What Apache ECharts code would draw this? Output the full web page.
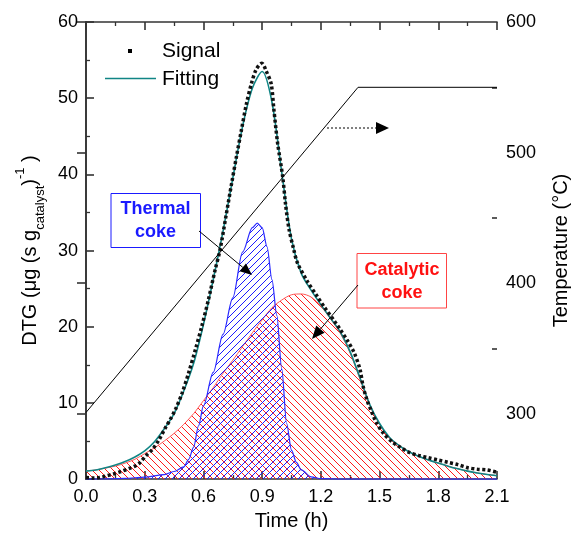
<!DOCTYPE html>
<html><head><meta charset="utf-8">
<script src="https://cdn.jsdelivr.net/npm/echarts@6/dist/echarts.min.js"></script>
<style>html,body{margin:0;padding:0;background:#fff}#c{width:579px;height:536px}</style>
</head><body><div id="c"></div>
<script>
// ---- data ----
const timeGrid = [0,0.05,0.1,0.15,0.2,0.25,0.3,0.35,0.4,0.45,0.5,0.55,0.6,0.65,0.7,0.75,0.8,0.85,0.9,0.95,1.0,1.05,1.1,1.15,1.2,1.25,1.3,1.35,1.4,1.45,1.5,1.55,1.6,1.65,1.7,1.75,1.8,1.85,1.9,1.95,2.0,2.05,2.1];
const catalyticValue = [1.05,1.2,1.45,1.7,2.1,2.6,3.35,4.1,5.0,6.0,7.2,8.6,10.3,12.0,13.9,15.6,17.4,19.2,20.9,22.5,23.5,24.2,24.3,23.9,22.7,21.0,19.1,16.5,13.1,9.6,7.2,5.4,4.4,3.6,3.0,2.5,2.1,1.7,1.35,1.05,0.8,0.6,0.45];
const fittingValue = [1.05,1.2,1.5,1.85,2.3,2.9,3.7,4.9,6.6,8.6,11.6,15.2,20.3,26.2,32.5,39.5,46.3,51.3,53.5,49.5,40.3,31.5,27.0,24.8,22.9,21.1,19.3,16.7,13.3,9.8,7.3,5.5,4.4,3.6,3.0,2.5,2.1,1.7,1.35,1.05,0.8,0.6,0.45];
const thermalTime = [0,0.1,0.2,0.3,0.4,0.45,0.5,0.525,0.55,0.575,0.6,0.65,0.7,0.75,0.8,0.85,0.875,0.9,0.925,0.95,0.975,1.0,1.025,1.05,1.075,1.1,1.15,1.2,1.3,1.5,2.1];
const thermalValue = [0,0.02,0.1,0.25,0.6,1.0,1.6,2.6,4.2,7.0,9.6,14.0,19.0,23.8,29.8,33.0,33.6,33.0,30.5,26.2,21.5,14.5,7.3,3.8,2.2,1.2,0.3,0.05,0,0,0];
const signalTime = [0,0.04,0.07,0.1,0.138,0.18,0.222,0.25,0.273,0.306,0.34,0.374,0.407,0.43,0.458,0.491,0.525,0.559,0.592,0.626,0.66,0.685,0.715,0.744,0.77,0.794,0.82,0.845,0.87,0.899,0.92,0.946,0.96,0.979,1.005,1.02,1.038,1.06,1.08,1.13,1.181,1.22,1.265,1.3,1.333,1.37,1.4,1.415,1.434,1.46,1.484,1.52,1.568,1.61,1.652,1.7,1.75,1.8,1.85,1.9,1.95,2.0,2.05,2.1];
const signalValue = [0.2,0.15,0.2,0.4,0.65,1.0,1.4,1.7,2.1,3.05,3.9,5.2,6.8,7.8,9.2,11.3,14.0,17.0,20.1,23.6,27.5,30.1,34.5,38.8,42.5,45.8,49.3,51.9,53.8,54.6,53.6,51.9,48.5,44.1,39.7,36.0,32.7,30.3,28.4,26.0,24.0,22.5,20.9,19.6,18.3,16.6,14.4,12.3,10.5,8.8,7.4,6.0,4.8,4.1,3.5,3.1,2.8,2.5,2.2,1.9,1.5,1.3,1.2,0.9];
const tempTime = [0,1.39,2.1];
const tempValue = [301,550,550];
const tempLabels = [300,400,500,600];
const tempMinor = [350,450,550];

const zip = (a, b) => a.map((t, i) => [t, b[i]]);
const FONT = 'Liberation Sans, Arial, sans-serif';

function hatch(color, dir) {
  const s = 7, c = document.createElement('canvas');
  c.width = s; c.height = s;
  const g = c.getContext('2d');
  g.strokeStyle = color; g.lineWidth = 1;
  g.beginPath();
  if (dir === '/') {
    g.moveTo(0, s); g.lineTo(s, 0);
    g.moveTo(-1, 1); g.lineTo(1, -1);
    g.moveTo(s - 1, s + 1); g.lineTo(s + 1, s - 1);
  } else {
    g.moveTo(0, 0); g.lineTo(s, s);
    g.moveTo(-1, s - 1); g.lineTo(1, s + 1);
    g.moveTo(s - 1, -1); g.lineTo(s + 1, 1);
  }
  g.stroke();
  return c;
}

function arrow(x1, y1, x2, y2, len, half, dash) {
  const a = Math.atan2(y2 - y1, x2 - x1);
  const bx = x2 - len * Math.cos(a), by = y2 - len * Math.sin(a);
  const px = -Math.sin(a) * half, py = Math.cos(a) * half;
  return [
    { type: 'line', z: 100, shape: { x1: x1, y1: y1, x2: bx, y2: by },
      style: { stroke: '#000', lineWidth: 1, lineDash: dash || null } },
    { type: 'polygon', z: 100, shape: { points: [[x2, y2], [bx + px, by + py], [bx - px, by - py]] },
      style: { fill: '#000' } }
  ];
}

const axisLineStyle = { color: '#333', width: 1.6 };
const labelStyle = { color: '#000', fontSize: 18, fontFamily: FONT };

const chart = echarts.init(document.getElementById('c'));
chart.setOption({
  animation: false,
  backgroundColor: '#fff',
  grid: { left: 86, right: 77, top: 22, bottom: 56 },
  xAxis: [
    { type: 'value', position: 'bottom', min: 0, max: 2.1, interval: 0.3,
      axisLine: { lineStyle: axisLineStyle },
      axisTick: { inside: true, length: 8, lineStyle: axisLineStyle },
      minorTick: { show: true, splitNumber: 2, length: 4, lineStyle: { color: '#333', width: 1.3 } },
      splitLine: { show: false },
      axisLabel: Object.assign({ margin: 9, formatter: v => v.toFixed(1) }, labelStyle),
      name: 'Time (h)', nameLocation: 'middle', nameGap: 25,
      nameTextStyle: { color: '#000', fontSize: 20, fontFamily: FONT } },
    { type: 'value', position: 'top', min: 0, max: 2.1, interval: 0.3,
      axisLine: { lineStyle: axisLineStyle },
      axisTick: { inside: true, length: 8, lineStyle: axisLineStyle },
      minorTick: { show: true, splitNumber: 2, length: 4, lineStyle: { color: '#333', width: 1.3 } },
      splitLine: { show: false }, axisLabel: { show: false } }
  ],
  yAxis: [
    { type: 'value', position: 'left', min: 0, max: 60, interval: 10,
      axisLine: { show: true, lineStyle: axisLineStyle },
      axisTick: { inside: true, length: 8, lineStyle: axisLineStyle },
      minorTick: { show: true, splitNumber: 2, length: 4, lineStyle: { color: '#333', width: 1.3 } },
      splitLine: { show: false },
      axisLabel: Object.assign({ margin: 8 }, labelStyle),
      name: '{n|DTG (μg (s g}{sub|catalyst}{n|)}{sup|-1}{n| )}',
      nameLocation: 'middle', nameGap: 44,
      nameTextStyle: {
        color: '#000', fontFamily: FONT,
        rich: {
          n: { fontSize: 20, fontFamily: FONT, color: '#000' },
          sub: { fontSize: 13, fontFamily: FONT, color: '#000', lineHeight: 13, padding: [20, 0, 0, 0] },
          sup: { fontSize: 13, fontFamily: FONT, color: '#000', lineHeight: 13, padding: [0, 0, 20, 0] }
        }
      } },
    { type: 'value', position: 'right', min: 250, max: 600, interval: 50,
      axisLine: { show: true, lineStyle: axisLineStyle },
      axisTick: { inside: true, length: 9, customValues: tempLabels, lineStyle: axisLineStyle },
      splitLine: { show: false },
      axisLabel: Object.assign({ margin: 9, customValues: tempLabels }, labelStyle),
      name: 'Temperature (°C)', nameLocation: 'middle', nameGap: 54, nameRotate: 90,
      nameTextStyle: { color: '#000', fontSize: 20, fontFamily: FONT } },
    { type: 'value', position: 'right', min: 250, max: 600, interval: 50,
      axisLine: { show: false },
      axisTick: { show: true, inside: true, length: 5, customValues: tempMinor, lineStyle: axisLineStyle },
      splitLine: { show: false }, axisLabel: { show: false } }
  ],
  series: [
    { name: 'Catalytic coke', type: 'line', data: zip(timeGrid, catalyticValue), smooth: 0.3,
      showSymbol: false, z: 2,
      lineStyle: { color: '#ff5555', width: 1 },
      areaStyle: { color: { image: hatch('#ff1a1a', '\\'), repeat: 'repeat' }, opacity: 1 } },
    { name: 'Thermal coke', type: 'line', data: zip(thermalTime, thermalValue), smooth: 0.3, smoothMonotone: 'x',
      showSymbol: false, z: 3,
      lineStyle: { color: '#2a2aff', width: 1.2 },
      areaStyle: { color: { image: hatch('#1a1aff', '/'), repeat: 'repeat' }, opacity: 1 } },
    { name: 'Fitting', type: 'line', data: zip(timeGrid, fittingValue), smooth: 0.3,
      showSymbol: false, z: 4, lineStyle: { color: '#108585', width: 1.6 } },
    { name: 'Signal', type: 'line', data: zip(signalTime, signalValue), smooth: 0.3,
      showSymbol: false, z: 5, lineStyle: { color: '#111', width: 3.5, type: [3, 2.5], cap: 'butt' } },
    { name: 'Temperature', type: 'line', yAxisIndex: 1, data: zip(tempTime, tempValue),
      showSymbol: false, z: 5, lineStyle: { color: '#000', width: 1 } }
  ],
  graphic: [
    { type: 'rect', z: 100, shape: { x: 128, y: 49, width: 4, height: 4 }, style: { fill: '#000' } },
    { type: 'text', z: 100, style: { x: 162, y: 51, text: 'Signal', fontSize: 21, fontFamily: FONT, fill: '#000', verticalAlign: 'middle' } },
    { type: 'line', z: 100, shape: { x1: 105, y1: 78.5, x2: 156, y2: 78.5 }, style: { stroke: '#108585', lineWidth: 1.6 } },
    { type: 'text', z: 100, style: { x: 162, y: 79, text: 'Fitting', fontSize: 21, fontFamily: FONT, fill: '#000', verticalAlign: 'middle' } },

    { type: 'rect', z: 100, shape: { x: 111, y: 193.5, width: 89.5, height: 54 }, style: { fill: '#fff', stroke: '#1a1aff', lineWidth: 1 } },
    { type: 'text', z: 101, style: { x: 155.5, y: 209, text: 'Thermal', fontSize: 18, fontWeight: 'bold', fontFamily: FONT, fill: '#1a1aff', align: 'center', verticalAlign: 'middle' } },
    { type: 'text', z: 101, style: { x: 155.5, y: 232, text: 'coke', fontSize: 18, fontWeight: 'bold', fontFamily: FONT, fill: '#1a1aff', align: 'center', verticalAlign: 'middle' } },

    { type: 'rect', z: 100, shape: { x: 357, y: 253.5, width: 89.5, height: 54.5 }, style: { fill: '#fff', stroke: '#ff4444', lineWidth: 1 } },
    { type: 'text', z: 101, style: { x: 402, y: 270, text: 'Catalytic', fontSize: 18, fontWeight: 'bold', fontFamily: FONT, fill: '#ff1010', align: 'center', verticalAlign: 'middle' } },
    { type: 'text', z: 101, style: { x: 402, y: 293, text: 'coke', fontSize: 18, fontWeight: 'bold', fontFamily: FONT, fill: '#ff1010', align: 'center', verticalAlign: 'middle' } }
  ]
    .concat(arrow(199, 231, 252, 275, 12, 5))
    .concat(arrow(358, 285, 312, 339, 13, 5.5))
    .concat(arrow(327, 128, 389, 128, 13, 6, [2, 2]))
});
</script>
</body></html>
